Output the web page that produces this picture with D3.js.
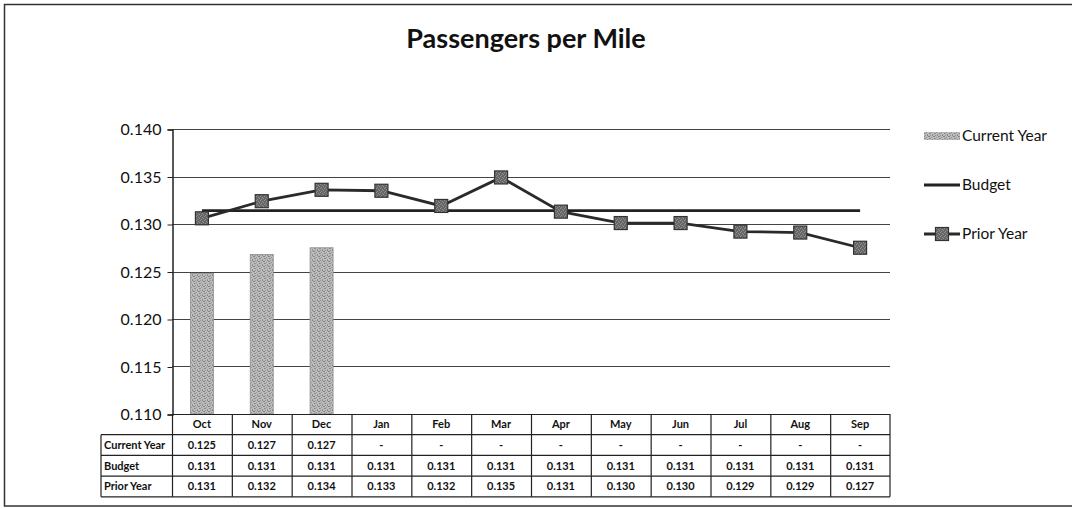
<!DOCTYPE html>
<html><head><meta charset="utf-8">
<script src="https://cdn.jsdelivr.net/npm/d3@7"></script>
<style>body{margin:0;background:#fff;}svg{display:block;font-family:Lato,"Open Sans",sans-serif;}</style>
</head><body>
<svg id="c" width="1072" height="508"></svg>
<script>
const months = ["Oct","Nov","Dec","Jan","Feb","Mar","Apr","May","Jun","Jul","Aug","Sep"];
const currentYear = [0.1248,0.1268,0.1275,null,null,null,null,null,null,null,null,null];
const budget = [0.1314,0.1314,0.1314,0.1314,0.1314,0.1314,0.1314,0.1314,0.1314,0.1314,0.1314,0.1314];
const priorYear = [0.1306,0.1324,0.1336,0.1335,0.1319,0.1349,0.1313,0.1301,0.1301,0.1292,0.1291,0.1275];
const yTicks = [0.110,0.115,0.120,0.125,0.130,0.135,0.140];
const tableRows = ["Current Year","Budget","Prior Year"];
const currentYearText = ["0.125","0.127","0.127","-","-","-","-","-","-","-","-","-"];
const budgetText = ["0.131","0.131","0.131","0.131","0.131","0.131","0.131","0.131","0.131","0.131","0.131","0.131"];
const priorYearText = ["0.131","0.132","0.134","0.133","0.132","0.135","0.131","0.130","0.130","0.129","0.129","0.127"];
const tableText = [currentYearText, budgetText, priorYearText];

const svg = d3.select("#c");
const L = 172, R = 890, T = 129, B = 414;
const x = d3.scaleBand().domain(months).range([L, R]);
const y = d3.scaleLinear().domain([0.110, 0.140]).range([B, T]);
const cx = m => x(m) + x.bandwidth()/2;

// dithered pattern for bars
const defs = svg.append("defs");
const pat = defs.append("pattern").attr("id","dither").attr("width",5).attr("height",5).attr("patternUnits","userSpaceOnUse");
pat.append("rect").attr("width",5).attr("height",5).attr("fill","#bcbcbc");
[[0,0],[3,1],[1,2],[4,3],[2,4],[2,0],[0,3],[4,1]].forEach(([a,b],i)=>{
  pat.append("rect").attr("x",a).attr("y",b).attr("width",1).attr("height",1).attr("fill", i%2 ? "#858585" : "#959595");
});
const pat2 = defs.append("pattern").attr("id","dither2").attr("width",4).attr("height",4).attr("patternUnits","userSpaceOnUse");
pat2.append("rect").attr("width",4).attr("height",4).attr("fill","#666");
[[0,0],[2,1],[1,3],[3,2]].forEach(([a,b])=>{
  pat2.append("rect").attr("x",a).attr("y",b).attr("width",1).attr("height",1).attr("fill","#929292");
});

// outer frame
svg.append("rect").attr("x",4.5).attr("y",4.5).attr("width",1080).attr("height",501.5)
  .attr("fill","none").attr("stroke","#333").attr("stroke-width",1.5);

// title
svg.append("text").attr("x",526).attr("y",48).attr("text-anchor","middle")
  .attr("font-size",27).attr("font-weight","bold").attr("fill","#111").text("Passengers per Mile");

// gridlines
svg.append("g").selectAll("line").data(yTicks).join("line")
  .attr("x1",L).attr("x2",R).attr("y1",d=>Math.round(y(d))+0.5).attr("y2",d=>Math.round(y(d))+0.5)
  .attr("stroke","#444").attr("stroke-width",1);

// y axis
const yAxis = d3.axisLeft(y).tickValues(yTicks).tickFormat(d3.format(".3f")).tickSize(5).tickPadding(6);
const ya = svg.append("g").attr("transform",`translate(${L+0.5},0.5)`).call(yAxis);
ya.select(".domain").attr("stroke","#222").attr("stroke-width",1.5);
ya.selectAll(".tick line").attr("stroke","#222");
ya.selectAll(".tick text").attr("font-size",16).attr("fill","#111").attr("font-family","Lato,sans-serif");

// bars
const bw = 23;
svg.append("g").selectAll("rect").data(months.map((m,i)=>({m,v:currentYear[i]})).filter(d=>d.v!=null)).join("rect")
  .attr("x",d=>cx(d.m)-bw/2).attr("width",bw).attr("y",d=>y(d.v)).attr("height",d=>B-y(d.v))
  .attr("fill","url(#dither)").attr("stroke","#909090").attr("stroke-width",0.8);

// budget line
svg.append("path").datum(budget).attr("fill","none").attr("stroke","#222").attr("stroke-width",2.8)
  .attr("d",d3.line().x((d,i)=>cx(months[i])).y(d=>y(d)));

// prior year line
svg.append("path").datum(priorYear).attr("fill","none").attr("stroke","#2a2a2a").attr("stroke-width",2.8)
  .attr("d",d3.line().x((d,i)=>cx(months[i])).y(d=>y(d)));
const ms = 13;
svg.append("g").selectAll("rect").data(priorYear).join("rect")
  .attr("x",(d,i)=>cx(months[i])-ms/2).attr("y",d=>y(d)-ms/2).attr("width",ms).attr("height",ms)
  .attr("fill","url(#dither2)").attr("stroke","#333").attr("stroke-width",1.2);

// data table
const rowH = 20.7, tL = 101;
const tg = svg.append("g").attr("font-family","Lato,sans-serif");
const rowsY = [B, B+rowH, B+2*rowH, B+3*rowH, B+4*rowH];
tg.append("line").attr("x1",L).attr("x2",R).attr("y1",rowsY[0]+0.5).attr("y2",rowsY[0]+0.5).attr("stroke","#222").attr("stroke-width",1.2);
[1,2,3,4].forEach(k=>{
  tg.append("line").attr("x1",tL).attr("x2",R).attr("y1",rowsY[k]).attr("y2",rowsY[k]).attr("stroke","#222").attr("stroke-width",1.2);
});
tg.append("line").attr("x1",tL).attr("x2",tL).attr("y1",rowsY[1]).attr("y2",rowsY[4]).attr("stroke","#222").attr("stroke-width",1.2);
months.forEach(m=>{
  tg.append("line").attr("x1",x(m)+0.5).attr("x2",x(m)+0.5).attr("y1",rowsY[0]).attr("y2",rowsY[4]).attr("stroke","#222").attr("stroke-width",1.2);
});
tg.append("line").attr("x1",R).attr("x2",R).attr("y1",rowsY[0]).attr("y2",rowsY[4]).attr("stroke","#222").attr("stroke-width",1.2);
tg.selectAll("text.h").data(months).join("text").attr("class","h")
  .attr("x",d=>cx(d)).attr("y",rowsY[0]+rowH/2+4).attr("text-anchor","middle")
  .attr("font-size",11).attr("font-weight","bold").attr("fill","#111").text(d=>d);
tableRows.forEach((r,k)=>{
  const yy = rowsY[k+1]+rowH/2+4;
  tg.append("text").attr("x",tL+3).attr("y",yy).attr("font-size",11).attr("font-weight","bold").attr("fill","#111").text(r);
  tg.append("g").selectAll("text").data(tableText[k]).join("text")
    .attr("x",(d,i)=>cx(months[i])).attr("y",yy).attr("text-anchor","middle")
    .attr("font-size",11).attr("font-weight","bold").attr("fill","#111").text(d=>d);
});

// legend
const lg = svg.append("g");
const lx = 924, lt = 962;
lg.append("rect").attr("x",lx).attr("y",132).attr("width",36).attr("height",8).attr("fill","url(#dither)");
lg.append("text").attr("x",lt).attr("y",141).attr("font-size",15.5).attr("fill","#111").text("Current Year");
lg.append("line").attr("x1",lx).attr("x2",lx+36).attr("y1",185).attr("y2",185).attr("stroke","#222").attr("stroke-width",2.8);
lg.append("text").attr("x",lt).attr("y",190).attr("font-size",15.5).attr("fill","#111").text("Budget");
lg.append("line").attr("x1",lx).attr("x2",lx+36).attr("y1",234).attr("y2",234).attr("stroke","#2a2a2a").attr("stroke-width",2.8);
lg.append("rect").attr("x",lx+18-ms/2).attr("y",234-ms/2).attr("width",ms).attr("height",ms).attr("fill","url(#dither2)").attr("stroke","#333").attr("stroke-width",1.2);
lg.append("text").attr("x",lt).attr("y",239).attr("font-size",15.5).attr("fill","#111").text("Prior Year");
</script>
</body></html>
